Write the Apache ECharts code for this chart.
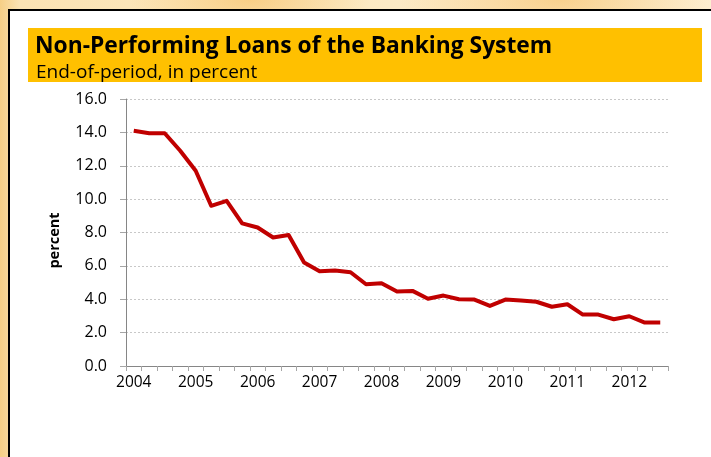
<!DOCTYPE html>
<html>
<head>
<meta charset="utf-8">
<script src="https://cdn.jsdelivr.net/npm/echarts@6/dist/echarts.min.js"></script>
<style>
  html, body { margin: 0; padding: 0; }
  body {
    width: 711px; height: 457px; overflow: hidden;
    background:
      radial-gradient(ellipse 120px 40px at 250px 0px, rgba(247,196,110,0.7), rgba(247,196,110,0) 100%),
      radial-gradient(ellipse 160px 50px at 560px 0px, rgba(246,190,100,0.6), rgba(246,190,100,0) 100%),
      linear-gradient(90deg, #f6cf86 0px, #fbe3b4 20px, #fdf0d4 100%);
  }
  #chart { width: 711px; height: 457px; }
</style>
</head>
<body>
<div id="chart"></div>
<script>
// Quarterly NPL ratio, 2004Q1 – 2012Q3
const quarters = [
  '2004Q1','2004Q2','2004Q3','2004Q4',
  '2005Q1','2005Q2','2005Q3','2005Q4',
  '2006Q1','2006Q2','2006Q3','2006Q4',
  '2007Q1','2007Q2','2007Q3','2007Q4',
  '2008Q1','2008Q2','2008Q3','2008Q4',
  '2009Q1','2009Q2','2009Q3','2009Q4',
  '2010Q1','2010Q2','2010Q3','2010Q4',
  '2011Q1','2011Q2','2011Q3','2011Q4',
  '2012Q1','2012Q2','2012Q3'
];
const nplRatio = [
  14.1, 13.95, 13.95, 12.9,
  11.7, 9.6, 9.9, 8.55,
  8.3, 7.7, 7.85, 6.2,
  5.68, 5.72, 5.62, 4.9,
  4.96, 4.47, 4.5, 4.03,
  4.22, 4.0, 3.98, 3.6,
  3.98, 3.93, 3.85, 3.55,
  3.7, 3.08, 3.08, 2.8,
  2.98, 2.6, 2.6
];
const yTicks = { min: 0, max: 16, step: 2 };
const titleText = 'Non-Performing Loans of the Banking System';
const subtitleText = 'End-of-period, in percent';
const yAxisTitle = 'percent';

const chart = echarts.init(document.getElementById('chart'), null, { renderer: 'canvas' });
const FONT = '"Open Sans", Lato, sans-serif';

chart.setOption({
  backgroundColor: 'transparent',
  animation: false,
  graphic: [
    { type: 'rect', z: -10, shape: { x: 9, y: 10, width: 720, height: 460 },
      style: { fill: '#ffffff', stroke: '#000000', lineWidth: 2 } },
    { type: 'rect', z: -9, shape: { x: 28, y: 28, width: 674, height: 54 },
      style: { fill: '#FFC000' } }
  ],
  title: [
    { text: titleText, left: 35, top: 35, padding: 0,
      textStyle: { fontFamily: FONT, fontWeight: 'bold', fontSize: 22.8, color: '#000' } },
    { text: subtitleText, left: 36, top: 63, padding: 0,
      textStyle: { fontFamily: FONT, fontWeight: 'normal', fontSize: 19, color: '#000' } }
  ],
  grid: { left: 126, right: 43, top: 99, bottom: 91, containLabel: false },
  xAxis: {
    type: 'category',
    data: quarters,
    boundaryGap: true,
    axisLine: { lineStyle: { color: '#868686', width: 1 } },
    axisTick: { show: true, interval: 0, length: 5, lineStyle: { color: '#a6a6a6' } },
    axisLabel: {
      interval: 3, margin: 9, color: '#000', fontSize: 15.5, fontFamily: FONT,
      formatter: v => v.slice(0, 4)
    },
    splitLine: { show: false }
  },
  yAxis: {
    type: 'value',
    min: yTicks.min, max: yTicks.max, interval: yTicks.step,
    name: yAxisTitle,
    nameLocation: 'middle',
    nameGap: 64,
    nameTextStyle: { fontFamily: FONT, fontWeight: 'bold', fontSize: 14.5, color: '#000',
      padding: [0, 16, 0, 0] },
    axisLine: { show: true, lineStyle: { color: '#868686', width: 1 } },
    axisTick: { show: true, length: 6, lineStyle: { color: '#a6a6a6' } },
    axisLabel: {
      margin: 19, color: '#000', fontSize: 16, fontFamily: FONT,
      formatter: v => v.toFixed(1)
    },
    splitLine: { show: true, lineStyle: { color: '#c8c8c8', type: [2, 2], width: 1 } }
  },
  series: [{
    type: 'line',
    data: nplRatio,
    showSymbol: false,
    symbol: 'none',
    lineStyle: { color: '#C00000', width: 4, join: 'round' },
    itemStyle: { color: '#C00000' }
  }]
});
</script>
</body>
</html>
